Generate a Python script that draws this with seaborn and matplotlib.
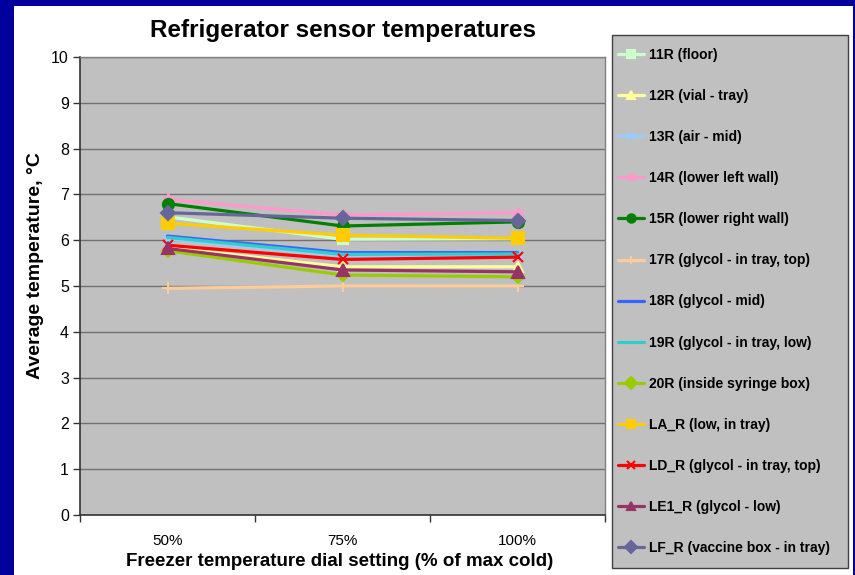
import matplotlib
matplotlib.use("Agg")
import matplotlib.pyplot as plt
from matplotlib.patches import Rectangle
import seaborn as sns
import pandas as pd

settings = ["50%", "75%", "100%"]

sensors = ["11R (floor)", "12R (vial - tray)", "13R (air - mid)", "14R (lower left wall)",
           "15R (lower right wall)", "17R (glycol - in tray, top)", "18R (glycol - mid)",
           "19R (glycol - in tray, low)", "20R (inside syringe box)", "LA_R (low, in tray)",
           "LD_R (glycol - in tray, top)", "LE1_R (glycol - low)", "LF_R (vaccine box - in tray)"]

t_11r = [6.51, 6.02, 6.03]
t_12r = [5.84, 5.42, 5.42]
t_13r = [6.03, 5.66, 5.67]
t_14r = [6.89, 6.55, 6.60]
t_15r = [6.80, 6.31, 6.40]
t_17r = [4.95, 5.00, 5.00]
t_18r = [6.09, 5.73, 5.73]
t_19r = [6.06, 5.69, 5.70]
t_20r = [5.77, 5.24, 5.20]
t_la = [6.37, 6.11, 6.04]
t_ld = [5.89, 5.58, 5.63]
t_le1 = [5.82, 5.35, 5.31]
t_lf = [6.60, 6.48, 6.43]

values = [t_11r, t_12r, t_13r, t_14r, t_15r, t_17r, t_18r, t_19r, t_20r, t_la, t_ld, t_le1, t_lf]

colors = ["#CCFFCC", "#FFFF99", "#99CCFF", "#FF99CC", "#008000", "#FFCC99", "#3366FF",
          "#33CCCC", "#99CC00", "#FFCC00", "#FF0000", "#993366", "#666699"]
markers = ["s", "^", "x", (6, 2, 0), "o", "+", None, None, "D", "s", "x", "^", "D"]
msizes = [7, 7, 7, 9, 8, 9, 0, 0, 6, 8, 7, 8, 7]

rows = []
for name, vals in zip(sensors, values):
    for i, v in enumerate(vals):
        rows.append({"sensor": name, "pos": i, "temp": v})
df = pd.DataFrame(rows)

sns.set_theme(style="white")
plt.rcParams["font.family"] = ["Liberation Sans", "DejaVu Sans"]
plt.rcParams["text.color"] = "black"
plt.rcParams["axes.labelcolor"] = "black"
plt.rcParams["xtick.color"] = "black"
plt.rcParams["ytick.color"] = "black"

fig = plt.figure(figsize=(8.55, 5.75), dpi=100, facecolor="#00009C")
W, H = 855, 575
fig.patches.append(Rectangle((14 / W, 0), (853 - 14) / W, (575 - 6) / H,
                             transform=fig.transFigure, facecolor="white",
                             edgecolor="none", zorder=-5))
# legend box
fig.patches.append(Rectangle((612 / W, 1 - 568 / H), (848 - 612) / W, (568 - 35) / H,
                             transform=fig.transFigure, facecolor="#C0C0C0",
                             edgecolor="#404040", linewidth=1, zorder=-4))

ax = fig.add_axes([80 / W, 1 - 515 / H, (605 - 80) / W, (515 - 57) / H])
ax.set_zorder(2)
ax.set_facecolor("#C0C0C0")

for name, col, mk, ms in zip(sensors, colors, markers, msizes):
    sub = df[df["sensor"] == name]
    sns.lineplot(data=sub, x="pos", y="temp", ax=ax, color=col, linewidth=2.3,
                 marker=mk, markersize=ms, markeredgecolor=col,
                 markeredgewidth=1.5, label=name, legend=False)

ax.set_xlim(-0.5, 2.5)
ax.set_ylim(0, 10)
ax.set_yticks(range(0, 11))
ax.yaxis.grid(True, color="#707070", linewidth=1)
ax.set_axisbelow(True)
ax.set_xticks([-0.5, 0.5, 1.5, 2.5])
ax.set_xticklabels([])
ax.set_xticks([0, 1, 2], minor=True)
ax.set_xticklabels(settings, minor=True)
ax.tick_params(axis="x", which="major", direction="out", length=5, color="#333333", width=1)
ax.tick_params(axis="x", which="minor", length=0, pad=14, labelsize=11)
ax.tick_params(axis="y", direction="out", length=5, color="#333333", width=1, labelsize=11.5, pad=3)
ax.tick_params(left=True, bottom=True)

for side in ["left", "bottom"]:
    ax.spines[side].set_color("#333333")
    ax.spines[side].set_linewidth(1.2)
for side in ["top", "right"]:
    ax.spines[side].set_color("#808080")
    ax.spines[side].set_linewidth(1)

ax.set_xlabel("Freezer temperature dial setting (% of max cold)", fontsize=13.5,
              fontweight="bold")
ax.xaxis.set_label_coords((340 - 80) / 525, -(562 - 515) / 458)
ax.xaxis.label.set_va("center")
ax.set_ylabel("Average temperature, °C", fontsize=14, fontweight="bold")
ax.yaxis.set_label_coords(-(80 - 36) / 525, (515 - 266) / 458)
ax.yaxis.label.set_va("center")
fig.text(343 / W, 1 - 30 / H, "Refrigerator sensor temperatures", ha="center", va="center",
         fontsize=17.5, fontweight="bold")

handles, labels = ax.get_legend_handles_labels()
leg = fig.legend(handles, labels, loc="upper left", bbox_to_anchor=(618 / W, 1 - 48 / H),
                 frameon=False, labelspacing=1.95, borderpad=0, borderaxespad=0,
                 handlelength=1.9, handletextpad=0.35,
                 prop={"weight": "bold", "size": 10})
for h in leg.legend_handles:
    h.set_markersize(6)

fig.savefig("out.png", dpi=100, facecolor=fig.get_facecolor())
